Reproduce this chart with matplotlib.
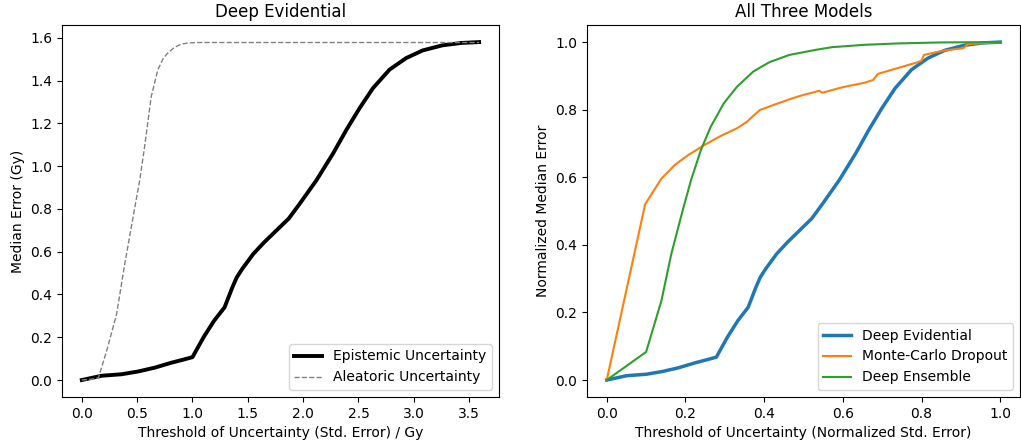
import numpy as np
import matplotlib
matplotlib.use("Agg")
import matplotlib.pyplot as plt

# Deep Evidential: median error vs. uncertainty threshold (Gy)
epi_x = [0.0, 0.18, 0.36, 0.51, 0.66, 0.81, 0.93, 1.0, 1.1, 1.195, 1.29, 1.36,
         1.40, 1.45, 1.55, 1.65, 1.76, 1.87, 1.97, 2.12, 2.27, 2.39, 2.51, 2.63,
         2.78, 2.93, 3.08, 3.26, 3.43, 3.59]
epi_y = [0.0, 0.02, 0.027, 0.04, 0.058, 0.081, 0.097, 0.107, 0.20, 0.277, 0.34,
         0.433, 0.48, 0.52, 0.59, 0.645, 0.70, 0.755, 0.825, 0.934, 1.059, 1.169,
         1.271, 1.364, 1.451, 1.505, 1.541, 1.565, 1.576, 1.58]

ale_x = [0.0, 0.08, 0.15, 0.224, 0.314, 0.388, 0.463, 0.523, 0.567, 0.627, 0.687,
         0.737, 0.777, 0.836, 0.896, 0.96, 1.046, 1.5, 2.0, 2.5, 3.0, 3.59]
ale_y = [0.0, 0.003, 0.011, 0.136, 0.308, 0.543, 0.762, 0.934, 1.09, 1.325, 1.451,
         1.505, 1.529, 1.555, 1.57, 1.576, 1.578, 1.578, 1.578, 1.578, 1.578, 1.578]

# All three models, normalised
mc_x = [0.0, 0.0975, 0.139, 0.1725, 0.206, 0.2475, 0.289, 0.331, 0.356, 0.368,
        0.389, 0.431, 0.4725, 0.4975, 0.531, 0.54, 0.5475, 0.5975, 0.656, 0.677,
        0.689, 0.739, 0.789, 0.800, 0.806, 0.856, 0.906, 0.918, 1.0]
mc_y = [0.0, 0.52, 0.596, 0.636, 0.665, 0.695, 0.722, 0.745, 0.764, 0.777, 0.799,
        0.817, 0.834, 0.843, 0.853, 0.856, 0.850, 0.866, 0.880, 0.888, 0.906, 0.923,
        0.940, 0.945, 0.962, 0.975, 0.982, 0.994, 1.0]

ens_x = [0.0, 0.1, 0.139, 0.164, 0.193, 0.214, 0.239, 0.264, 0.2975, 0.331, 0.3725,
         0.414, 0.464, 0.531, 0.5725, 0.656, 0.739, 0.85, 1.0]
ens_y = [0.0, 0.083, 0.235, 0.373, 0.502, 0.591, 0.68, 0.749, 0.819, 0.868, 0.913,
         0.941, 0.962, 0.977, 0.985, 0.992, 0.996, 0.999, 1.0]

fig = plt.figure(figsize=(10.21, 4.42), dpi=100)
ax1 = fig.add_axes([0.0607, 0.102, 0.428, 0.841])
ax2 = fig.add_axes([0.575, 0.102, 0.424, 0.841])

ax1.plot(epi_x, epi_y, color="black", linewidth=2.8, label="Epistemic Uncertainty")
ax1.plot(ale_x, ale_y, color="gray", linestyle="--", linewidth=1, label="Aleatoric Uncertainty")
ax1.set_xticks(np.arange(0, 3.51, 0.5))
ax1.set_yticks(np.arange(0, 1.61, 0.2))
ax1.set_title("Deep Evidential")
ax1.set_xlabel("Threshold of Uncertainty (Std. Error) / Gy")
ax1.set_ylabel("Median Error (Gy)")
ax1.legend(loc="lower right")

# deep evidential curve rescaled to [0, 1] on both axes
de_x = np.array(epi_x) / max(epi_x)
de_y = np.array(epi_y) / max(epi_y)
ax2.plot(de_x, de_y, color="C0", linewidth=2.5, label="Deep Evidential")
ax2.plot(mc_x, mc_y, color="C1", linewidth=1.5, label="Monte-Carlo Dropout")
ax2.plot(ens_x, ens_y, color="C2", linewidth=1.5, label="Deep Ensemble")
ax2.set_title("All Three Models")
ax2.set_xlabel("Threshold of Uncertainty (Normalized Std. Error)")
ax2.set_ylabel("Normalized Median Error")
ax2.legend(loc="lower right")

plt.savefig("out.png", dpi=100)
